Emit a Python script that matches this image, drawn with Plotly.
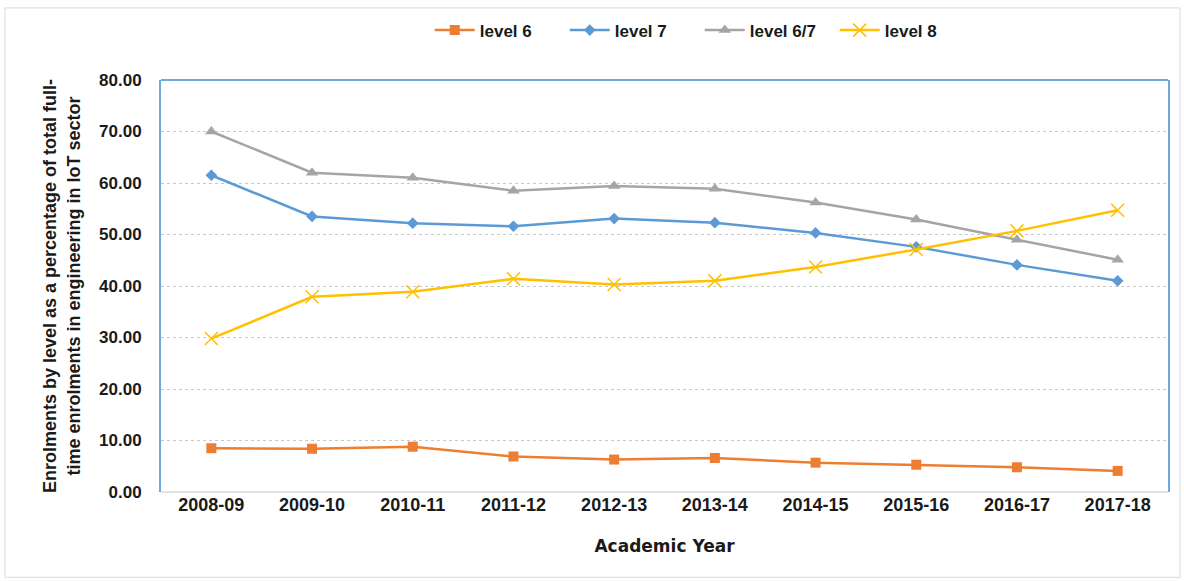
import plotly.graph_objects as go

years = ["2008-09", "2009-10", "2010-11", "2011-12", "2012-13",
         "2013-14", "2014-15", "2015-16", "2016-17", "2017-18"]
level6 = [8.5, 8.4, 8.8, 6.9, 6.3, 6.6, 5.7, 5.3, 4.8, 4.1]
level7 = [61.5, 53.5, 52.2, 51.6, 53.1, 52.3, 50.3, 47.6, 44.1, 41.0]
level67 = [70.0, 62.0, 61.0, 58.5, 59.4, 58.9, 56.2, 52.9, 49.0, 45.1]
level8 = [29.8, 37.9, 38.9, 41.4, 40.3, 41.0, 43.7, 47.1, 50.7, 54.7]
y_ticks = [0, 10, 20, 30, 40, 50, 60, 70, 80]

FONT = "Liberation Sans, Arial, sans-serif"

fig = go.Figure()
series = [
    ("level 6", level6, "#ED7D31", dict(symbol="square", size=10)),
    ("level 7", level7, "#5B9BD5", dict(symbol="diamond", size=9)),
    ("level 6/7", level67, "#A5A5A5", dict(symbol="triangle-up", size=11)),
    ("level 8", level8, "#FFC000", dict(symbol="x-thin", size=13,
                                         line=dict(width=1.5, color="#FFC000"))),
]
for name, vals, color, mk in series:
    fig.add_trace(go.Scatter(
        x=years, y=vals, name=name, mode="lines+markers",
        line=dict(color=color, width=2.5),
        marker=dict(color=color, **mk),
    ))

fig.update_layout(
    width=1184, height=581,
    margin=dict(l=161, r=16, t=76, b=89),
    paper_bgcolor="white", plot_bgcolor="white",
    font=dict(family=FONT, color="#1a1a1a"),
    showlegend=True,
    legend=dict(orientation="h", x=0.535, xanchor="center", y=1.12, yanchor="middle",
                font=dict(size=17, family=FONT, weight="bold"),
                itemwidth=40, tracegroupgap=0, entrywidth=80, entrywidthmode="pixels"),
    xaxis=dict(
        type="category", range=[-0.5, 9.5],
        showgrid=False, showline=False, ticks="", zeroline=False,
        tickfont=dict(size=18, family=FONT, weight="bold"),
        title=dict(text="Academic Year", font=dict(size=17, family="DejaVu Sans", weight="bold"),
                   standoff=26),
    ),
    yaxis=dict(
        range=[0, 80], tickvals=y_ticks, tickformat=".2f",
        showgrid=True, gridcolor="#C8C8C8", griddash="dot", gridwidth=1,
        showline=True, linecolor="#6FA8DC", linewidth=2, mirror=True,
        zeroline=False, ticks="", ticklabelstandoff=14,
        tickfont=dict(size=17, family=FONT, weight="bold"),
        title=dict(text="Enrolments by level as a percentage of total full-<br>time enrolments in engineering in IoT sector",
                   font=dict(size=18, family=FONT, weight="bold"), standoff=14),
    ),
    shapes=[
        dict(type="line", xref="paper", yref="paper", x0=0, x1=1, y0=1, y1=1,
             line=dict(color="#6FA8DC", width=2)),
        dict(type="line", xref="paper", yref="paper", x0=0, x1=1, y0=0, y1=0,
             line=dict(color="#C8C8C8", width=1)),
        dict(type="rect", xref="paper", yref="paper", x0=-0.155, x1=1.012, y0=-0.207, y1=1.175,
             line=dict(color="#D9D9D9", width=1), layer="below"),
    ],
)

fig.write_html("out.html")
